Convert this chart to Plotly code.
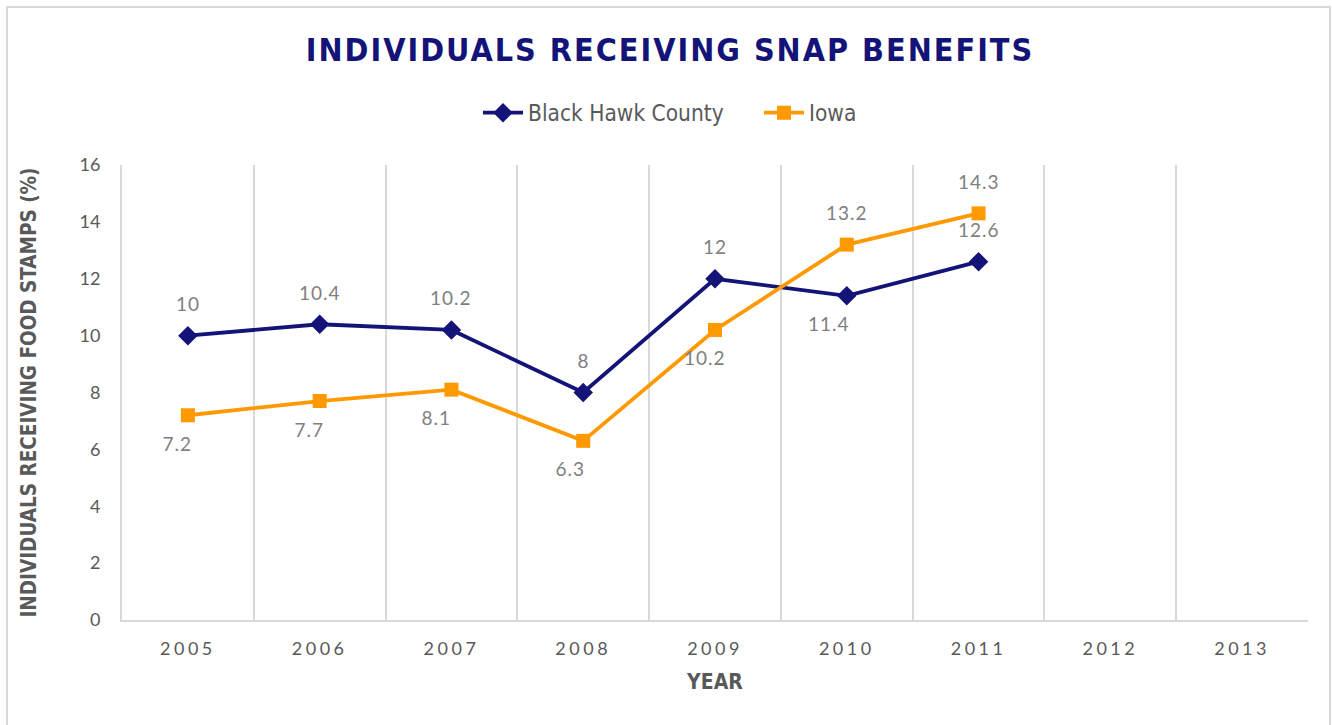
import plotly.graph_objects as go

years = ["2005", "2006", "2007", "2008", "2009", "2010", "2011", "2012", "2013"]
black_hawk = [10, 10.4, 10.2, 8, 12, 11.4, 12.6, None, None]
iowa = [7.2, 7.7, 8.1, 6.3, 10.2, 13.2, 14.3, None, None]

# label placement (style only): +1 above, -1 below; small horizontal nudge
bh_label_side = [1, 1, 1, 1, 1, -1, 1, 1, 1]
bh_label_dx = [0, 0, 0, 0, 0, -18, 0, 0, 0]
ia_label_side = [-1, -1, -1, -1, -1, 1, 1, 1, 1]
ia_label_dx = [-10, -10, -15, -13, -10, 0, 0, 0, 0]

NAVY = "#141478"
ORANGE = "#FF9900"
GRID = "#d9d9d9"
TXT = "#595959"
LBL = "#7f7f7f"
COND = "DejaVu Sans Condensed, DejaVu Sans, sans-serif"
BODY = "Lato, Open Sans, sans-serif"

fig = go.Figure()
fig.add_trace(go.Scatter(
    x=years, y=black_hawk, name="Black Hawk County", mode="lines+markers",
    line=dict(color=NAVY, width=3.8),
    marker=dict(symbol="diamond", size=15, color=NAVY),
))
fig.add_trace(go.Scatter(
    x=years, y=iowa, name="Iowa", mode="lines+markers",
    line=dict(color=ORANGE, width=3.8),
    marker=dict(symbol="square", size=14, color=ORANGE),
))

annotations = []
for vals, side, dx in ((black_hawk, bh_label_side, bh_label_dx), (iowa, ia_label_side, ia_label_dx)):
    for i, (v, s, d) in enumerate(zip(vals, side, dx)):
        if v is None:
            continue
        annotations.append(dict(
            x=i, y=v, xref="x", yref="y", text=f"{v:g}", showarrow=False,
            yshift=32 if s > 0 else -28, xshift=d,
            font=dict(family=BODY, size=19, color=LBL),
        ))

fig.update_layout(
    width=1332, height=725,
    paper_bgcolor="white", plot_bgcolor="white",
    margin=dict(l=122, r=24, t=165, b=105),
    title=dict(
        text="<b>INDIVIDUALS RECEIVING SNAP BENEFITS</b>",
        x=0.503, xref="container", xanchor="center",
        y=1 - 50 / 725, yref="container", yanchor="middle",
        font=dict(family=COND, size=32, color=NAVY),
    ),
    legend=dict(
        orientation="h", x=478 / 1332, xref="container", xanchor="left",
        y=1 - 113 / 725, yref="container", yanchor="middle",
        font=dict(family=COND, size=22.5, color=TXT),
        itemwidth=40, entrywidth=226,
    ),
    annotations=annotations,
    shapes=[dict(
        type="rect", xref="paper", yref="paper",
        x0=(7 - 122) / 1186, x1=(1330 - 122) / 1186,
        y0=(620 - 740) / 455, y1=(620 - 7) / 455,
        line=dict(color=GRID, width=2), fillcolor="rgba(0,0,0,0)", layer="below",
    )],
    showlegend=True,
)

fig.update_xaxes(
    type="category", categoryorder="array", categoryarray=years,
    range=[-0.5, len(years) - 0.5],
    tickson="boundaries", ticks="",
    showgrid=True, gridcolor=GRID, gridwidth=2,
    showline=True, linecolor=GRID, linewidth=2,
    ticklabelstandoff=11,
    tickfont=dict(family=BODY, size=18, color=TXT),
    title=dict(text="<b>YEAR</b>", standoff=17,
               font=dict(family=COND, size=21, color=TXT)),
    zeroline=False,
)
fig.update_yaxes(
    range=[0, 16], dtick=2, tick0=0,
    showgrid=False, zeroline=False,
    showline=True, linecolor=GRID, linewidth=2,
    ticks="", ticklabelstandoff=16,
    tickfont=dict(family=BODY, size=18, color=TXT),
    title=dict(text="<b>INDIVIDUALS RECEIVING FOOD STAMPS (%)</b>", standoff=37,
               font=dict(family=COND, size=20.5, color=TXT)),
)

post = (
    "document.body.style.margin='0';"
    "document.querySelectorAll('.gtitle').forEach(function(e){e.style.letterSpacing='2px';});"
    "document.querySelectorAll('.xtick text').forEach(function(e){e.style.letterSpacing='3.5px';});"
    "document.querySelectorAll('.annotation-text').forEach(function(e){e.style.letterSpacing='1px';});"
)
fig.write_html("out.html", post_script=post, config={"displayModeBar": False})
